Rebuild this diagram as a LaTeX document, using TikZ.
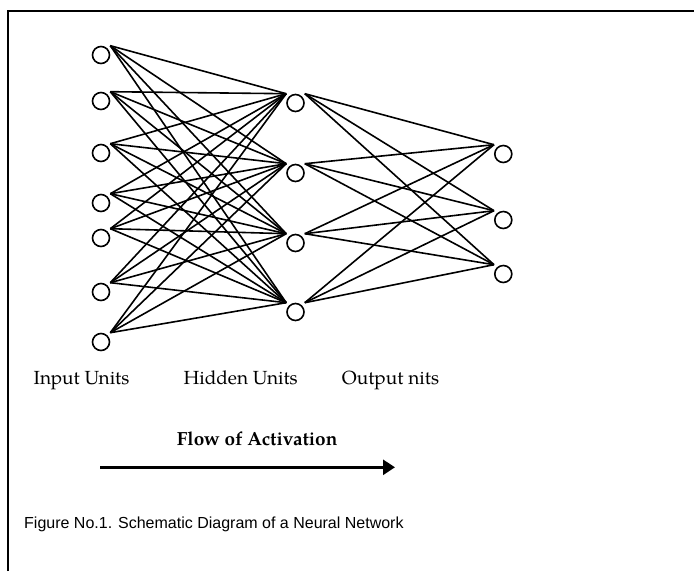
\documentclass[tikz,border=0pt]{standalone}
\usepackage{fontspec}
\usepackage{tikz}
\usetikzlibrary{arrows.meta}

\newfontfamily\figcapfont{Liberation Sans}
\newfontfamily\unitfont{TeX Gyre Pagella}

\begin{document}
\begin{tikzpicture}[
  x=1pt, y=-1pt,
  unit/.style={
    circle,
    draw=black,
    line width=1.6pt,
    minimum size=17pt,
    inner sep=0pt
  },
  wire/.style={
    line width=1.6pt
  },
  unitlabel/.style={
    font=\unitfont\fontsize{19}{23}\selectfont,
    anchor=base west,
    inner sep=0pt
  }
]

\useasboundingbox (0,0) rectangle (694,571);

% frame (top and left edges only)
\draw[line width=1.8pt] (8,571) -- (8,11) -- (694,11);

% layers
\foreach \i/\y in {1/55, 2/101, 3/153, 4/203, 5/238, 6/292, 7/342}
  \node[unit] (in\i) at (101,\y) {};
\foreach \j/\y in {1/103, 2/173, 3/243, 4/312}
  \node[unit] (hid\j) at (295.5,\y) {};
\foreach \k/\y in {1/154, 2/220, 3/274}
  \node[unit] (out\k) at (503.3,\y) {};

% connections, fully connected between layers
\foreach \i in {1,...,7}
  \foreach \j in {1,...,4}
    \draw[wire] (in\i.north -| in\i.east) -- (hid\j.north -| hid\j.west);
\foreach \j in {1,...,4}
  \foreach \k in {1,...,3}
    \draw[wire] (hid\j.north -| hid\j.east) -- (out\k.north -| out\k.west);

% layer names
\node[unitlabel] (inlbl) at (33.5,384.5) {Input Units};
\node[unitlabel] (hidlbl) at (183.3,384.5) {Hidden Units};
\node[unitlabel] (outlbl) at (341.7,384.5) {Output nits};

% direction of activation
\node[unitlabel, font=\unitfont\bfseries\fontsize{19}{23}\selectfont]
  (flowlbl) at (176.7,445) {Flow of Activation};
\coordinate (flowstart) at (100,467.3);
\coordinate (flowend) at (395,467.3);
\draw[line width=2.6pt, -{Triangle[length=12pt, width=15pt]}]
  (flowstart) -- (flowend);

% caption
\node[anchor=base west, inner sep=0pt, font=\figcapfont\fontsize{16}{19}\selectfont]
  (figcap) at (24,528.3) {Figure No.1. Schematic Diagram of a Neural Network};

\end{tikzpicture}
\end{document}
